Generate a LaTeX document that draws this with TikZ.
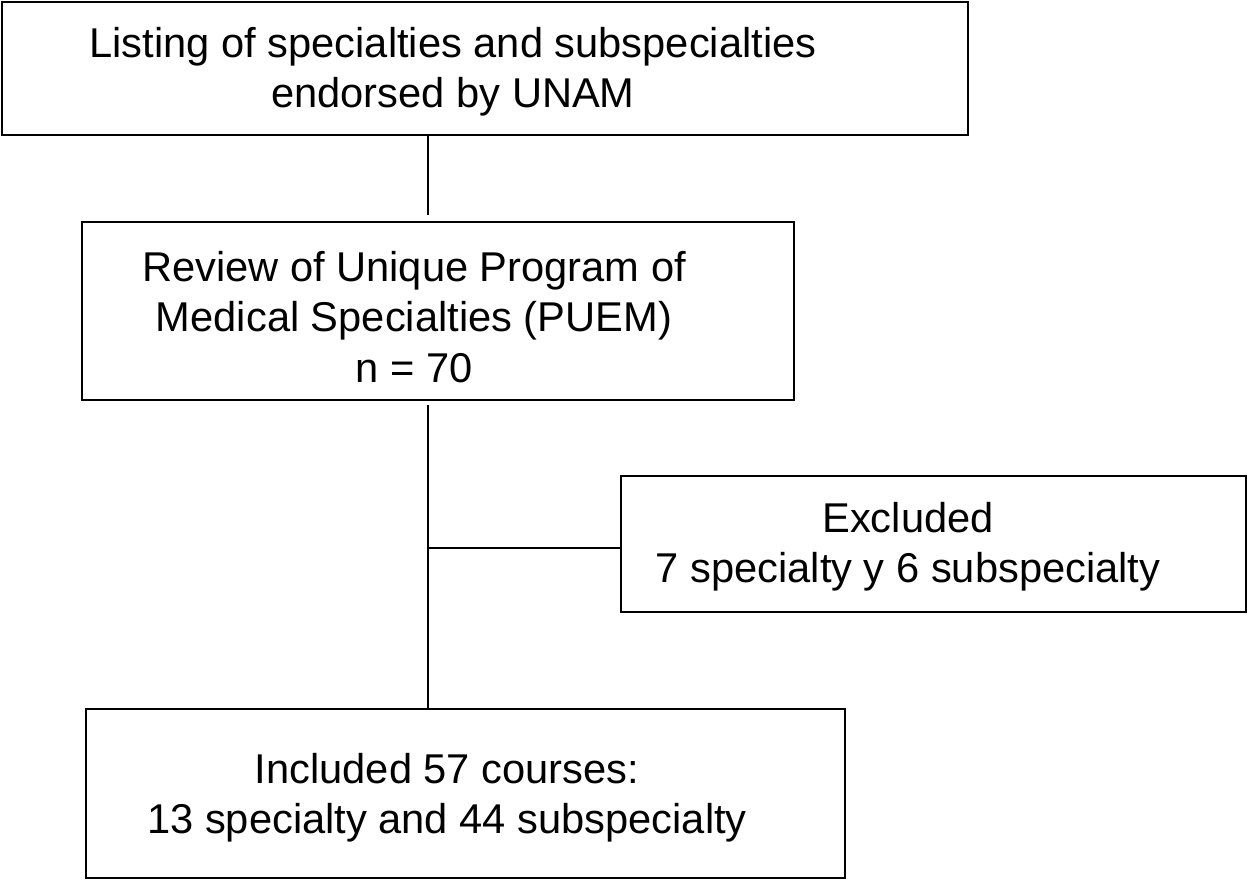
\documentclass[tikz,border=0pt]{standalone}
\usepackage{fontspec}
\setmainfont{Liberation Sans}
\begin{document}
\begin{tikzpicture}[x=0.02cm,y=-0.02cm,
  box/.style={draw=black,line width=1.1pt,inner sep=0pt},
  txt/.style={align=center,font=\fontsize{23.7}{28.6}\selectfont,inner sep=0pt},
  conn/.style={draw=black,line width=1pt}]
\useasboundingbox (0,0) rectangle (1250,883);
% boxes (centre, size)
\node[box,minimum width=966*0.02cm,minimum height=133*0.02cm] (b1) at (485,68.5) {};
\node[box,minimum width=712*0.02cm,minimum height=178*0.02cm] (b2) at (438,311) {};
\node[box,minimum width=625*0.02cm,minimum height=136*0.02cm] (b3) at (933.5,544) {};
\node[box,minimum width=759*0.02cm,minimum height=169*0.02cm] (b4) at (465.5,793.5) {};
% texts
\node[txt] (t1) at (453,72) {Listing of specialties and subspecialties\\endorsed by UNAM};
\node[txt] (t2) at (414,317) {Review of Unique Program of\\Medical Specialties (PUEM)\\n = 70};
\node[txt] (t3) at (908,547) {Excluded\\7 specialty y 6 subspecialty};
\node[txt] (t4) at (447,798) {Included 57 courses:\\13 specialty and 44 subspecialty};
% connectors
\coordinate (c1top) at (428,135);
\coordinate (c1bot) at (428,215);
\coordinate (c2top) at (428,405);
\coordinate (c2bot) at (428,709);
\coordinate (cj) at (428,548);
\draw[conn] (c1top) -- (c1bot);
\draw[conn] (c2top) -- (c2bot);
\draw[conn] (cj) -- (cj -| b3.west);
\end{tikzpicture}
\end{document}
